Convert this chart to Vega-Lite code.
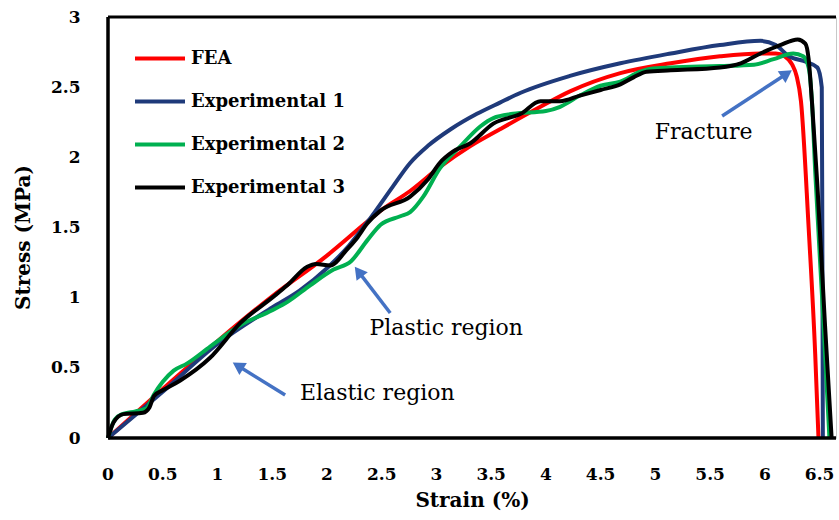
{
  "$schema": "https://vega.github.io/schema/vega-lite/v6.json",
  "width": 728,
  "height": 421,
  "autosize": "none",
  "padding": {"left": 108, "top": 17, "right": 3, "bottom": 82},
  "config": {
    "view": {"stroke": "#c8c8c8", "strokeWidth": 1},
    "font": "DejaVu Serif",
    "axis": {
      "grid": false, "ticks": false, "domain": false,
      "labelFont": "DejaVu Serif", "labelFontWeight": "bold", "labelFontSize": 17, "labelColor": "black",
      "labelFlush": false, "labelOverlap": false,
      "titleFont": "DejaVu Serif", "titleFontWeight": "bold", "titleFontSize": 20, "titleColor": "black"
    }
  },
  "datasets": {
    "curves": [
      {"series": "FEA", "x": 0, "y": 0},
      {"series": "FEA", "x": 0.5, "y": 0.35},
      {"series": "FEA", "x": 1.0, "y": 0.69},
      {"series": "FEA", "x": 1.5, "y": 1.01},
      {"series": "FEA", "x": 2.0, "y": 1.3},
      {"series": "FEA", "x": 2.35, "y": 1.53},
      {"series": "FEA", "x": 2.49, "y": 1.62},
      {"series": "FEA", "x": 2.76, "y": 1.76},
      {"series": "FEA", "x": 3.03, "y": 1.93},
      {"series": "FEA", "x": 3.31, "y": 2.08},
      {"series": "FEA", "x": 3.58, "y": 2.2},
      {"series": "FEA", "x": 3.95, "y": 2.36},
      {"series": "FEA", "x": 4.22, "y": 2.47},
      {"series": "FEA", "x": 4.68, "y": 2.6},
      {"series": "FEA", "x": 5.14, "y": 2.67},
      {"series": "FEA", "x": 5.59, "y": 2.72},
      {"series": "FEA", "x": 5.96, "y": 2.74},
      {"series": "FEA", "x": 6.1, "y": 2.74},
      {"series": "FEA", "x": 6.18, "y": 2.72},
      {"series": "FEA", "x": 6.25, "y": 2.66},
      {"series": "FEA", "x": 6.29, "y": 2.58},
      {"series": "FEA", "x": 6.33, "y": 2.4},
      {"series": "FEA", "x": 6.4, "y": 1.5},
      {"series": "FEA", "x": 6.46, "y": 0.6},
      {"series": "FEA", "x": 6.49, "y": 0},
      {"series": "Experimental 1", "x": 0, "y": 0},
      {"series": "Experimental 1", "x": 0.5, "y": 0.33},
      {"series": "Experimental 1", "x": 1.0, "y": 0.67},
      {"series": "Experimental 1", "x": 1.5, "y": 0.93},
      {"series": "Experimental 1", "x": 1.75, "y": 1.05},
      {"series": "Experimental 1", "x": 2.0, "y": 1.21},
      {"series": "Experimental 1", "x": 2.2, "y": 1.37},
      {"series": "Experimental 1", "x": 2.39, "y": 1.56},
      {"series": "Experimental 1", "x": 2.6, "y": 1.79},
      {"series": "Experimental 1", "x": 2.76, "y": 1.96},
      {"series": "Experimental 1", "x": 2.92, "y": 2.08},
      {"series": "Experimental 1", "x": 3.13, "y": 2.2},
      {"series": "Experimental 1", "x": 3.37, "y": 2.31},
      {"series": "Experimental 1", "x": 3.58, "y": 2.39},
      {"series": "Experimental 1", "x": 3.77, "y": 2.46},
      {"series": "Experimental 1", "x": 4.22, "y": 2.58},
      {"series": "Experimental 1", "x": 4.68, "y": 2.67},
      {"series": "Experimental 1", "x": 5.14, "y": 2.74},
      {"series": "Experimental 1", "x": 5.59, "y": 2.8},
      {"series": "Experimental 1", "x": 5.96, "y": 2.83},
      {"series": "Experimental 1", "x": 6.1, "y": 2.8},
      {"series": "Experimental 1", "x": 6.22, "y": 2.72},
      {"series": "Experimental 1", "x": 6.38, "y": 2.68},
      {"series": "Experimental 1", "x": 6.48, "y": 2.64},
      {"series": "Experimental 1", "x": 6.52, "y": 2.5},
      {"series": "Experimental 1", "x": 6.525, "y": 1.5},
      {"series": "Experimental 1", "x": 6.53, "y": 0},
      {"series": "Experimental 2", "x": 0, "y": 0},
      {"series": "Experimental 2", "x": 0.06, "y": 0.13},
      {"series": "Experimental 2", "x": 0.13, "y": 0.17},
      {"series": "Experimental 2", "x": 0.25, "y": 0.19},
      {"series": "Experimental 2", "x": 0.35, "y": 0.21},
      {"series": "Experimental 2", "x": 0.42, "y": 0.31},
      {"series": "Experimental 2", "x": 0.5, "y": 0.4},
      {"series": "Experimental 2", "x": 0.6, "y": 0.48},
      {"series": "Experimental 2", "x": 0.72, "y": 0.53},
      {"series": "Experimental 2", "x": 0.93, "y": 0.65},
      {"series": "Experimental 2", "x": 1.2, "y": 0.8},
      {"series": "Experimental 2", "x": 1.5, "y": 0.91},
      {"series": "Experimental 2", "x": 1.64, "y": 0.97},
      {"series": "Experimental 2", "x": 1.85, "y": 1.09},
      {"series": "Experimental 2", "x": 2.06, "y": 1.2},
      {"series": "Experimental 2", "x": 2.22, "y": 1.26},
      {"series": "Experimental 2", "x": 2.37, "y": 1.41},
      {"series": "Experimental 2", "x": 2.49, "y": 1.52},
      {"series": "Experimental 2", "x": 2.67, "y": 1.58},
      {"series": "Experimental 2", "x": 2.76, "y": 1.61},
      {"series": "Experimental 2", "x": 2.88, "y": 1.72},
      {"series": "Experimental 2", "x": 3.03, "y": 1.92},
      {"series": "Experimental 2", "x": 3.22, "y": 2.08},
      {"series": "Experimental 2", "x": 3.4, "y": 2.22},
      {"series": "Experimental 2", "x": 3.52, "y": 2.28},
      {"series": "Experimental 2", "x": 3.7, "y": 2.31},
      {"series": "Experimental 2", "x": 4.0, "y": 2.33},
      {"series": "Experimental 2", "x": 4.13, "y": 2.36},
      {"series": "Experimental 2", "x": 4.31, "y": 2.44},
      {"series": "Experimental 2", "x": 4.5, "y": 2.51},
      {"series": "Experimental 2", "x": 4.68, "y": 2.54},
      {"series": "Experimental 2", "x": 4.86, "y": 2.61},
      {"series": "Experimental 2", "x": 4.95, "y": 2.63},
      {"series": "Experimental 2", "x": 5.14, "y": 2.64},
      {"series": "Experimental 2", "x": 5.59, "y": 2.65},
      {"series": "Experimental 2", "x": 5.9, "y": 2.66},
      {"series": "Experimental 2", "x": 6.08, "y": 2.7},
      {"series": "Experimental 2", "x": 6.26, "y": 2.74},
      {"series": "Experimental 2", "x": 6.35, "y": 2.72},
      {"series": "Experimental 2", "x": 6.4, "y": 2.64},
      {"series": "Experimental 2", "x": 6.43, "y": 2.4},
      {"series": "Experimental 2", "x": 6.46, "y": 1.9},
      {"series": "Experimental 2", "x": 6.53, "y": 0.9},
      {"series": "Experimental 2", "x": 6.59, "y": 0},
      {"series": "Experimental 3", "x": 0, "y": 0},
      {"series": "Experimental 3", "x": 0.05, "y": 0.11},
      {"series": "Experimental 3", "x": 0.14, "y": 0.17},
      {"series": "Experimental 3", "x": 0.32, "y": 0.18},
      {"series": "Experimental 3", "x": 0.38, "y": 0.22},
      {"series": "Experimental 3", "x": 0.42, "y": 0.3},
      {"series": "Experimental 3", "x": 0.5, "y": 0.34},
      {"series": "Experimental 3", "x": 0.66, "y": 0.41},
      {"series": "Experimental 3", "x": 0.93, "y": 0.57},
      {"series": "Experimental 3", "x": 1.21, "y": 0.82},
      {"series": "Experimental 3", "x": 1.5, "y": 1.0},
      {"series": "Experimental 3", "x": 1.64, "y": 1.09},
      {"series": "Experimental 3", "x": 1.82, "y": 1.22},
      {"series": "Experimental 3", "x": 1.9, "y": 1.24},
      {"series": "Experimental 3", "x": 2.03, "y": 1.23},
      {"series": "Experimental 3", "x": 2.18, "y": 1.34},
      {"series": "Experimental 3", "x": 2.27, "y": 1.42},
      {"series": "Experimental 3", "x": 2.37, "y": 1.53},
      {"series": "Experimental 3", "x": 2.49, "y": 1.62},
      {"series": "Experimental 3", "x": 2.76, "y": 1.72},
      {"series": "Experimental 3", "x": 2.92, "y": 1.84},
      {"series": "Experimental 3", "x": 3.03, "y": 1.96},
      {"series": "Experimental 3", "x": 3.15, "y": 2.04},
      {"series": "Experimental 3", "x": 3.31, "y": 2.1},
      {"series": "Experimental 3", "x": 3.52, "y": 2.24},
      {"series": "Experimental 3", "x": 3.77, "y": 2.31},
      {"series": "Experimental 3", "x": 3.95, "y": 2.4},
      {"series": "Experimental 3", "x": 4.13, "y": 2.4},
      {"series": "Experimental 3", "x": 4.31, "y": 2.44},
      {"series": "Experimental 3", "x": 4.5, "y": 2.48},
      {"series": "Experimental 3", "x": 4.68, "y": 2.52},
      {"series": "Experimental 3", "x": 4.8, "y": 2.57},
      {"series": "Experimental 3", "x": 4.92, "y": 2.61},
      {"series": "Experimental 3", "x": 5.14, "y": 2.62},
      {"series": "Experimental 3", "x": 5.59, "y": 2.64},
      {"series": "Experimental 3", "x": 5.78, "y": 2.67},
      {"series": "Experimental 3", "x": 5.96, "y": 2.74},
      {"series": "Experimental 3", "x": 6.14, "y": 2.8},
      {"series": "Experimental 3", "x": 6.3, "y": 2.84},
      {"series": "Experimental 3", "x": 6.37, "y": 2.81},
      {"series": "Experimental 3", "x": 6.4, "y": 2.7},
      {"series": "Experimental 3", "x": 6.43, "y": 2.4},
      {"series": "Experimental 3", "x": 6.48, "y": 1.8},
      {"series": "Experimental 3", "x": 6.55, "y": 0.8},
      {"series": "Experimental 3", "x": 6.61, "y": 0}
    ],
    "xticks": [
      {"x": 0}, {"x": 0.5}, {"x": 1}, {"x": 1.5}, {"x": 2}, {"x": 2.5}, {"x": 3},
      {"x": 3.5}, {"x": 4}, {"x": 4.5}, {"x": 5}, {"x": 5.5}, {"x": 6}, {"x": 6.5}
    ],
    "notes": [
      {"text": "Fracture", "x": 5.44, "y": 2.18},
      {"text": "Plastic region", "x": 3.09, "y": 0.784},
      {"text": "Elastic region", "x": 2.46, "y": 0.32}
    ],
    "arrows": [
      {"name": "Fracture", "x": 5.61, "y": 2.295, "x2": 6.2, "y2": 2.596},
      {"name": "Plastic", "x": 2.578, "y": 0.891, "x2": 2.288, "y2": 1.186},
      {"name": "Elastic", "x": 1.618, "y": 0.306, "x2": 1.187, "y2": 0.515}
    ]
  },
  "layer": [
    {
      "data": {"name": "curves"},
      "mark": {"type": "line", "strokeWidth": 4, "interpolate": "monotone"},
      "encoding": {
        "x": {
          "field": "x", "type": "quantitative",
          "scale": {"domain": [0, 6.65], "nice": false},
          "axis": {
            "title": "Strain (%)",
            "values": [0, 0.5, 1, 1.5, 2, 2.5, 3, 3.5, 4, 4.5, 5, 5.5, 6, 6.5],
            "labels": false,
            "titleY": 52, "titleBaseline": "top"
          }
        },
        "y": {
          "field": "y", "type": "quantitative",
          "scale": {"domain": [0, 3], "nice": false},
          "axis": {
            "title": "Stress (MPa)",
            "values": [0, 0.5, 1, 1.5, 2, 2.5, 3],
            "format": "~g",
            "offset": 26,
            "titleX": -49, "titleY": 220, "titleBaseline": "bottom"
          }
        },
        "color": {
          "field": "series", "type": "nominal",
          "scale": {"domain": ["FEA", "Experimental 1", "Experimental 2", "Experimental 3"], "range": ["#ff0000", "#1f3a7a", "#00b050", "#000000"]},
          "legend": {
            "orient": "none", "legendX": 25, "legendY": 20, "title": null, "padding": 0,
            "symbolType": "stroke", "symbolSize": 2500, "symbolStrokeWidth": 4,
            "labelFont": "DejaVu Serif", "labelFontWeight": "bold", "labelFontSize": 18, "labelColor": "black",
            "rowPadding": 0, "clipHeight": 43, "labelOffset": 4
          }
        }
      }
    },
    {
      "data": {"values": [{}]},
      "mark": {"type": "rule", "color": "black", "strokeWidth": 3},
      "encoding": {"y": {"datum": 3}}
    },
    {
      "data": {"values": [{}]},
      "mark": {"type": "rule", "color": "black", "strokeWidth": 3.5},
      "encoding": {"y": {"datum": 0}}
    },
    {
      "data": {"values": [{}]},
      "mark": {"type": "rule", "color": "black", "strokeWidth": 3.5},
      "encoding": {"x": {"datum": 0}}
    },
    {
      "data": {"name": "xticks"},
      "mark": {"type": "text", "font": "DejaVu Serif", "fontWeight": "bold", "fontSize": 17, "color": "black", "align": "center", "baseline": "middle", "clip": false},
      "encoding": {
        "x": {"field": "x", "type": "quantitative"},
        "y": {"datum": -0.265},
        "text": {"field": "x", "type": "quantitative", "format": "~g"}
      }
    },
    {
      "data": {"name": "arrows"},
      "mark": {"type": "rule", "color": "#4472c4", "strokeWidth": 3.5},
      "encoding": {
        "x": {"field": "x", "type": "quantitative"},
        "y": {"field": "y", "type": "quantitative"},
        "x2": {"field": "x2"},
        "y2": {"field": "y2"}
      }
    },
    {
      "data": {"name": "arrows"},
      "transform": [{"filter": "datum.name === 'Fracture'"}],
      "mark": {"type": "point", "shape": "triangle-up", "filled": true, "color": "#4472c4", "size": 200, "opacity": 1, "angle": 56.7},
      "encoding": {"x": {"field": "x2", "type": "quantitative"}, "y": {"field": "y2", "type": "quantitative"}}
    },
    {
      "data": {"name": "arrows"},
      "transform": [{"filter": "datum.name === 'Plastic'"}],
      "mark": {"type": "point", "shape": "triangle-up", "filled": true, "color": "#4472c4", "size": 200, "opacity": 1, "angle": 322.6},
      "encoding": {"x": {"field": "x2", "type": "quantitative"}, "y": {"field": "y2", "type": "quantitative"}}
    },
    {
      "data": {"name": "arrows"},
      "transform": [{"filter": "datum.name === 'Elastic'"}],
      "mark": {"type": "point", "shape": "triangle-up", "filled": true, "color": "#4472c4", "size": 200, "opacity": 1, "angle": 301.9},
      "encoding": {"x": {"field": "x2", "type": "quantitative"}, "y": {"field": "y2", "type": "quantitative"}}
    },
    {
      "data": {"name": "notes"},
      "mark": {"type": "text", "font": "DejaVu Serif", "fontSize": 22, "color": "black", "align": "center", "baseline": "middle"},
      "encoding": {
        "x": {"field": "x", "type": "quantitative"},
        "y": {"field": "y", "type": "quantitative"},
        "text": {"field": "text"}
      }
    }
  ]
}
